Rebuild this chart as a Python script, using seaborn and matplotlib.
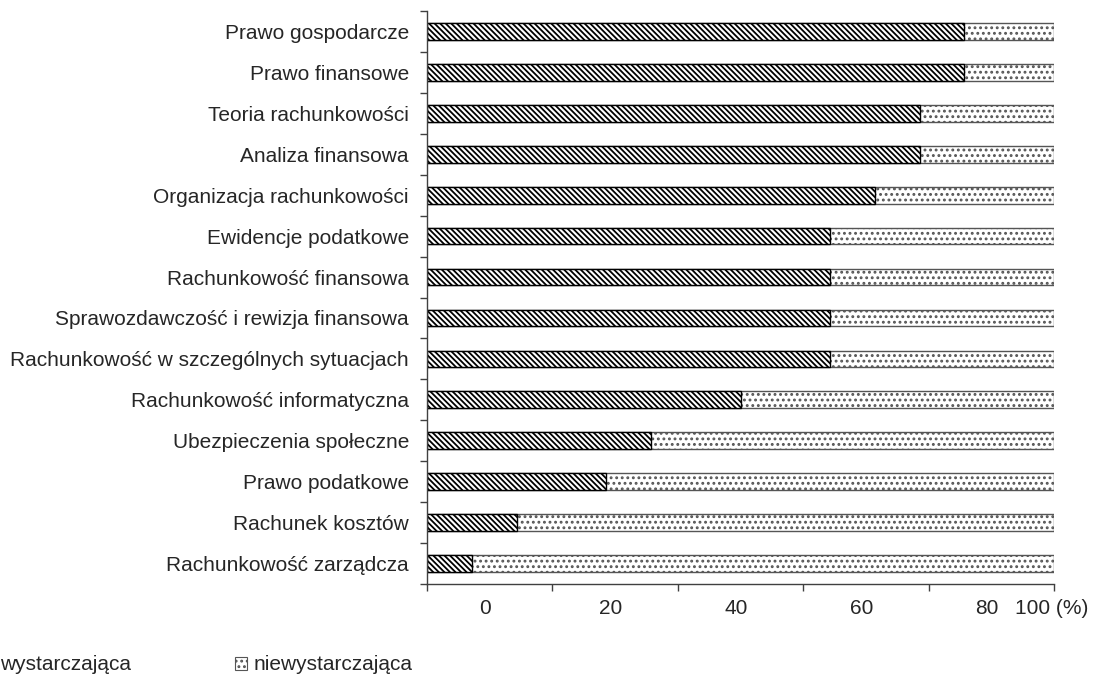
import matplotlib
matplotlib.use("Agg")
import matplotlib.pyplot as plt
import matplotlib.ticker as mticker
from matplotlib.patches import Patch
import pandas as pd
import seaborn as sns

categories = [
    "Prawo gospodarcze",
    "Prawo finansowe",
    "Teoria rachunkowości",
    "Analiza finansowa",
    "Organizacja rachunkowości",
    "Ewidencje podatkowe",
    "Rachunkowość finansowa",
    "Sprawozdawczość i rewizja finansowa",
    "Rachunkowość w szczególnych sytuacjach",
    "Rachunkowość informatyczna",
    "Ubezpieczenia społeczne",
    "Prawo podatkowe",
    "Rachunek kosztów",
    "Rachunkowość zarządcza",
]
wystarczajaca = [85.7, 85.7, 78.6, 78.6, 71.4, 64.3, 64.3, 64.3, 64.3, 50.0, 35.7, 28.6, 14.3, 7.1]
niewystarczajaca = [100 - v for v in wystarczajaca]
tick_values = [0, 20, 40, 60, 80, 100]
tick_labels = ["0", "20", "40", "60", "80", "100 (%)"]
label_positions = [9.3, 29.3, 49.3, 69.3, 89.3, 99.6]

df = pd.DataFrame({
    "kategoria": categories,
    "wyst": wystarczajaca,
    "total": [a + b for a, b in zip(wystarczajaca, niewystarczajaca)],
})

sns.set_style("white")
plt.rcParams["font.family"] = ["Liberation Sans", "DejaVu Sans"]
plt.rcParams["hatch.linewidth"] = 1.3
fs = 15

HATCH_W = "\\" * 6
HATCH_N = "..."

fig = plt.figure(figsize=(10.98, 6.79), dpi=100)
ax = fig.add_axes([427 / 1098, 1 - 584 / 679, 627 / 1098, (584 - 11) / 679])

sns.barplot(data=df, x="total", y="kategoria", orient="h", color="white",
            edgecolor="#555555", linewidth=1.0, hatch=HATCH_N, width=0.41,
            ax=ax, saturation=1)
sns.barplot(data=df, x="wyst", y="kategoria", orient="h", color="white",
            edgecolor="black", linewidth=1.0, hatch=HATCH_W, width=0.41,
            ax=ax, saturation=1)

ax.set_xlim(0, 100)
ax.set_ylim(len(categories) - 0.5, -0.5)
ax.set_xlabel("")
ax.set_ylabel("")

axis_col = "#404040"
for s in ["top", "right"]:
    ax.spines[s].set_visible(False)
for s in ["left", "bottom"]:
    ax.spines[s].set_color(axis_col)
    ax.spines[s].set_linewidth(1.0)

# x: ticks at values, labels shifted between ticks
ax.xaxis.set_major_locator(mticker.FixedLocator(tick_values))
ax.xaxis.set_major_formatter(mticker.NullFormatter())
ax.xaxis.set_minor_locator(mticker.FixedLocator(label_positions))
ax.xaxis.set_minor_formatter(mticker.FixedFormatter(tick_labels))
ax.tick_params(axis="x", which="major", direction="out", length=5, width=1, color=axis_col, bottom=True)
ax.tick_params(axis="x", which="minor", length=0, labelsize=fs, pad=11, bottom=True)

# y: ticks at category boundaries, labels at bar centers
n = len(categories)
ax.yaxis.set_major_locator(mticker.FixedLocator([i - 0.5 for i in range(n + 1)]))
ax.yaxis.set_major_formatter(mticker.NullFormatter())
ax.yaxis.set_minor_locator(mticker.FixedLocator(list(range(n))))
ax.yaxis.set_minor_formatter(mticker.FixedFormatter(categories))
ax.tick_params(axis="y", which="major", direction="out", length=5, width=1, color=axis_col, left=True)
ax.tick_params(axis="y", which="minor", length=0, labelsize=fs, pad=13, left=True)

handles = [
    Patch(facecolor="white", edgecolor="black", hatch=HATCH_W, linewidth=0.8, label="wystarczająca"),
    Patch(facecolor="white", edgecolor="#555555", hatch=HATCH_N, linewidth=0.8, label="niewystarczająca"),
]
fig.legend(handles=handles, loc="center left", bbox_to_anchor=(-19 / 1098, 1 - 665 / 679),
           ncol=2, frameon=False, fontsize=fs, handlelength=0.6, handleheight=0.6,
           handletextpad=0.3, columnspacing=5.0, borderpad=0, borderaxespad=0)

fig.savefig("out.png", dpi=100)
